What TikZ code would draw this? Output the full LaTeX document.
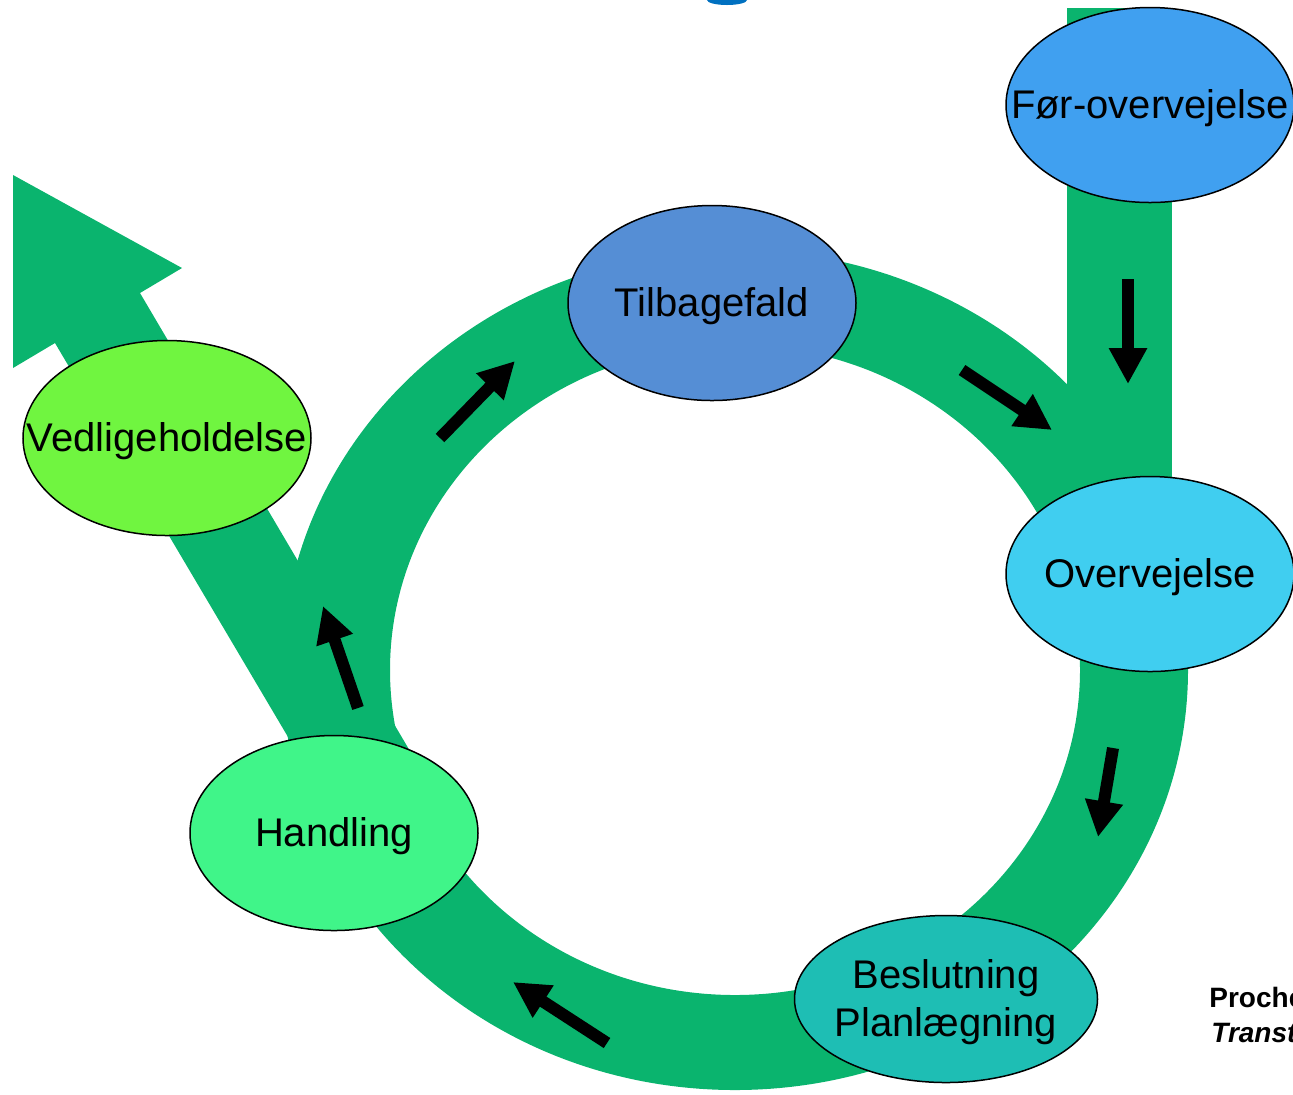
\documentclass[tikz,border=0pt]{standalone}
\usepackage{fontspec}
\setmainfont{Liberation Sans}
\usetikzlibrary{shapes.geometric,arrows.meta}
\definecolor{bandgreen}{RGB}{10,180,110}
\definecolor{titleblue}{RGB}{0,112,192}
\definecolor{precol}{RGB}{64,160,240}
\definecolor{relcol}{RGB}{85,142,213}
\definecolor{concol}{RGB}{64,206,240}
\definecolor{prepcol}{RGB}{30,190,180}
\definecolor{actcol}{RGB}{64,245,137}
\definecolor{maintcol}{RGB}{112,245,64}
\newcommand{\stagetext}[1]{\raisebox{-1.5pt}[\height][\depth]{\makebox[0pt]{#1}}}
\tikzset{
  stage/.style={ellipse,draw=black,line width=0.75pt,inner sep=0pt,
    minimum width=144pt,minimum height=97.5pt,font=\fontsize{20}{24}\selectfont},
  flow/.style={line width=6pt,-{Triangle[length=18pt,width=18pt]}},
  source/.style={anchor=base west,inner sep=0pt,font=\fontsize{14}{17.5}\selectfont\bfseries}
}
\begin{document}
\begin{tikzpicture}[x=0.5pt,y=-0.5pt]
      \useasboundingbox (0,0) rectangle (1293,1094);
      \fill[titleblue] (707,0) arc[start angle=180,end angle=0,x radius=20,y radius=5];
      \fill[bandgreen,even odd rule]
        (735,670) ellipse[x radius=453,y radius=420]
        (735,670) ellipse[x radius=345,y radius=325];
      \fill[bandgreen] (1067,8) rectangle (1172,560);
      \fill[bandgreen] (346,835) -- (55,343) -- (13,368) -- (13,175)
        -- (182,268) -- (140,293) -- (430,785) -- cycle;
      \node[stage,fill=precol] (foer) at (1150,105) {\stagetext{Før-overvejelse}};
      \node[stage,fill=relcol] (tilbage) at (712,303) {\stagetext{Tilbagefald}};
      \node[stage,fill=concol] (overv) at (1150,574) {\stagetext{Overvejelse}};
      \node[stage,fill=prepcol,minimum width=151.5pt,minimum height=83.5pt,align=center]
        (beslut) at (946,999) {\stagetext{Beslutning}\\\stagetext{Planlægning}};
      \node[stage,fill=actcol] (handl) at (334,833) {\stagetext{Handling}};
      \node[stage,fill=maintcol] (vedl) at (167,438) {\stagetext{Vedligeholdelse}};
      \coordinate (f1) at (1128,279);
      \coordinate (t1) at (1128,384);
      \coordinate (f2) at (962,370);
      \coordinate (t2) at (1052,430);
      \coordinate (f3) at (1113,748);
      \coordinate (t3) at (1098,837);
      \coordinate (f4) at (607,1043);
      \coordinate (t4) at (513,982);
      \coordinate (f5) at (358,708);
      \coordinate (t5) at (323,606);
      \coordinate (f6) at (440,438);
      \coordinate (t6) at (515,361);
      \begin{scope}[flow]
        \draw (f1) -- (t1);
        \draw (f2) -- (t2);
        \draw (f3) -- (t3);
        \draw (f4) -- (t4);
        \draw (f5) -- (t5);
        \draw (f6) -- (t6);
      \end{scope}
      \node[source] (src1) at (1209,1007) {Proche};
      \node[source,font=\fontsize{14}{17.5}\selectfont\bfseries\itshape] (src2) at (1211,1042) {Transt};
    \end{tikzpicture}
\end{document}
